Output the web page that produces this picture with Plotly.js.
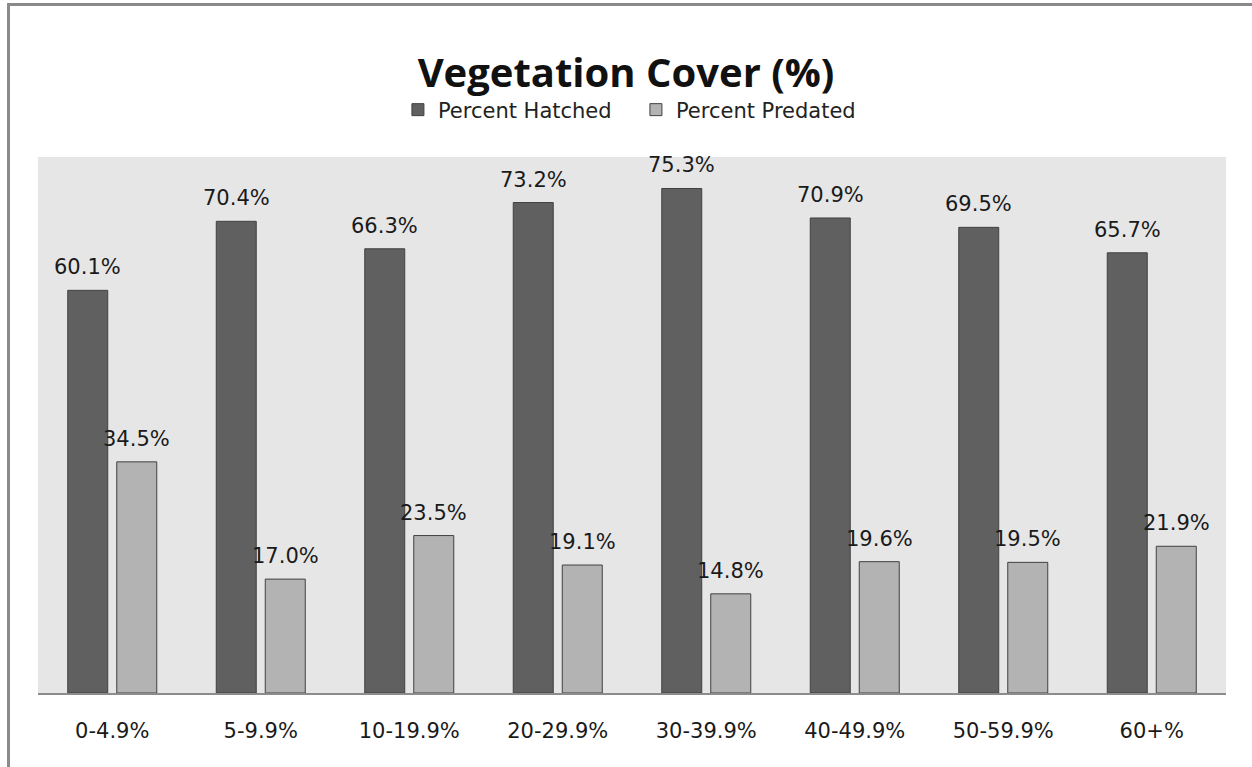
<!DOCTYPE html>
<html>
<head>
<meta charset="utf-8">
<script src="https://cdn.plot.ly/plotly-3.0.1.min.js"></script>
<style>
  html, body { margin: 0; padding: 0; background: #fff; overflow: hidden; }
  #wrap { position: relative; width: 1252px; height: 767px; }
  #chart { width: 1252px; height: 767px; }
  #frame { position: absolute; left: 7px; top: 3px; width: 2000px; height: 2000px;
           border-left: 3px solid #8a8a8a; border-top: 3px solid #8a8a8a; pointer-events: none; }
</style>
</head>
<body>
<div id="wrap">
  <div id="chart"></div>
  <div id="frame"></div>
</div>
<script>
const categories = ['0-4.9%', '5-9.9%', '10-19.9%', '20-29.9%', '30-39.9%', '40-49.9%', '50-59.9%', '60+%'];
const hatched = [60.1, 70.4, 66.3, 73.2, 75.3, 70.9, 69.5, 65.7];
const predated = [34.5, 17.0, 23.5, 19.1, 14.8, 19.6, 19.5, 21.9];
const seriesNames = ['Percent Hatched', 'Percent Predated'];

const labelFont = { family: 'DejaVu Sans, Verdana, sans-serif', size: 21, color: '#1a1a1a' };

const traces = [
  { type: 'bar', name: seriesNames[0], x: categories, y: hatched,
    marker: { color: '#606060', line: { color: '#404040', width: 1 } }, hoverinfo: 'y' },
  { type: 'bar', name: seriesNames[1], x: categories, y: predated,
    marker: { color: '#b3b3b3', line: { color: '#404040', width: 1 } }, hoverinfo: 'y' }
];

const annotations = [];
[[hatched, -24.5], [predated, 24.5]].forEach(([vals, xs]) => {
  vals.forEach((v, i) => {
    annotations.push({ x: categories[i], y: v, xref: 'x', yref: 'y', text: v.toFixed(1) + '%',
      showarrow: false, xshift: xs, yshift: 23, yanchor: 'middle', font: labelFont });
  });
});

const layout = {
  width: 1252, height: 767,
  margin: { l: 38, r: 26, t: 157, b: 74 },
  paper_bgcolor: '#ffffff',
  plot_bgcolor: '#e6e6e6',
  title: { text: '<b>Vegetation Cover (%)</b>', x: 0.5, xanchor: 'center', y: 1 - 73/767, yanchor: 'middle',
    yref: 'container', font: { family: 'Open Sans, sans-serif', size: 40, color: '#111' } },
  barmode: 'group', bargap: 0.34, bargroupgap: 0.184,
  showlegend: true,
  legend: { orientation: 'h', x: 0.5033, xanchor: 'center', y: 1 + 47/536, yanchor: 'middle',
    font: { family: 'DejaVu Sans, Verdana, sans-serif', size: 21, color: '#222' }, itemwidth: 30,
    entrywidth: 193, entrywidthmode: 'pixels', traceorder: 'normal' },
  xaxis: { type: 'category', showline: true, linecolor: '#8c8c8c', linewidth: 1.5, showgrid: false,
    ticks: '', ticklabelstandoff: 18, tickfont: labelFont, zeroline: false, fixedrange: true },
  yaxis: { range: [0, 80], visible: false, showgrid: false, zeroline: false, fixedrange: true },
  annotations: annotations
};

Plotly.newPlot('chart', traces, layout, { displayModeBar: false, staticPlot: true });
</script>
</body>
</html>
